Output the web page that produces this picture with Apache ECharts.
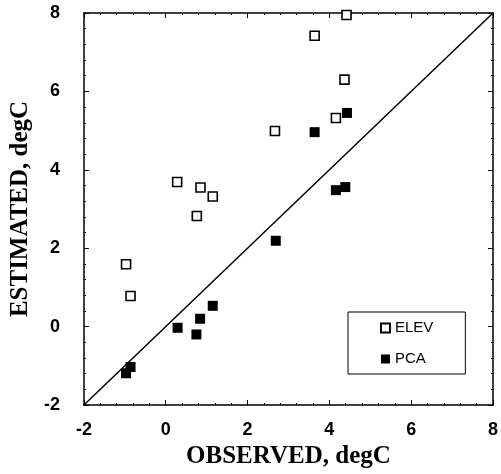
<!DOCTYPE html>
<html><head><meta charset="utf-8">
<script src="https://cdn.jsdelivr.net/npm/echarts@6/dist/echarts.min.js"></script>
<style>html,body{margin:0;padding:0;background:#fff}#c{width:501px;height:474px}</style>
</head><body><div id="c"></div>
<script>
const elevObserved = [-0.97, -0.86, 0.28, 0.76, 0.85, 1.15, 2.67, 3.64, 4.16, 4.37, 4.42];
const elevEstimated = [1.59, 0.78, 3.69, 2.82, 3.55, 3.32, 4.99, 7.42, 5.32, 6.30, 7.95];
const pcaObserved = [-0.97, -0.86, 0.29, 0.75, 0.84, 1.15, 2.69, 3.64, 4.16, 4.39, 4.43];
const pcaEstimated = [-1.19, -1.03, -0.03, -0.20, 0.20, 0.53, 2.19, 4.96, 3.48, 3.56, 5.45];
const oneToOne = [[-2, -2], [8, 8]];

const chart = echarts.init(document.getElementById('c'), null, {renderer: 'canvas'});
const tickFont = {fontFamily: 'Liberation Sans', fontWeight: 'bold', fontSize: 18, color: '#000'};
const nameFont = {fontFamily: 'Liberation Serif', fontWeight: 'bold', fontSize: 25, color: '#000'};
const baseAxis = {
  min: -2, max: 8, interval: 2,
  axisLine: {show: true, onZero: false, lineStyle: {color: '#000', width: 1.5}},
  axisTick: {show: true, inside: true, length: 5, lineStyle: {color: '#000', width: 1}},
  minorTick: {show: true, splitNumber: 5, length: 2, lineStyle: {color: '#000', width: 1}},
  splitLine: {show: false}
};
chart.setOption({
  animation: false,
  grid: {left: 83, right: 7, top: 13, bottom: 66},
  xAxis: [
    Object.assign({}, baseAxis, {type: 'value', position: 'bottom',
      name: 'OBSERVED, degC', nameLocation: 'middle', nameGap: 39, nameTextStyle: nameFont,
      axisLabel: Object.assign({margin: 16}, tickFont)}),
    Object.assign({}, baseAxis, {type: 'value', position: 'top', axisLabel: {show: false}})
  ],
  yAxis: [
    Object.assign({}, baseAxis, {type: 'value', position: 'left',
      name: 'ESTIMATED, degC', nameLocation: 'middle', nameGap: 41, nameTextStyle: nameFont,
      axisLabel: Object.assign({margin: 24}, tickFont)}),
    Object.assign({}, baseAxis, {type: 'value', position: 'right', axisLabel: {show: false}})
  ],
  legend: {
    orient: 'vertical', left: 348, top: 312,
    padding: [8, 32, 7, 32], itemGap: 15, itemWidth: 9, itemHeight: 9,
    borderColor: '#000', borderWidth: 1, borderRadius: 0,
    textStyle: {fontFamily: 'Liberation Sans', fontSize: 15, color: '#000', lineHeight: 16},
    data: ['ELEV', 'PCA']
  },
  series: [
    {type: 'line', data: oneToOne, symbol: 'none', lineStyle: {color: '#000', width: 1.5}, silent: true, z: 1},
    {name: 'ELEV', type: 'scatter', symbol: 'rect', symbolSize: 9,
      itemStyle: {color: '#fff', borderColor: '#000', borderWidth: 1.6, opacity: 1},
      data: elevObserved.map((x, i) => [x, elevEstimated[i]]), z: 3},
    {name: 'PCA', type: 'scatter', symbol: 'rect', symbolSize: 10,
      itemStyle: {color: '#000', borderColor: '#000', borderWidth: 0, opacity: 1},
      data: pcaObserved.map((x, i) => [x, pcaEstimated[i]]), z: 3}
  ]
});
</script></body></html>
